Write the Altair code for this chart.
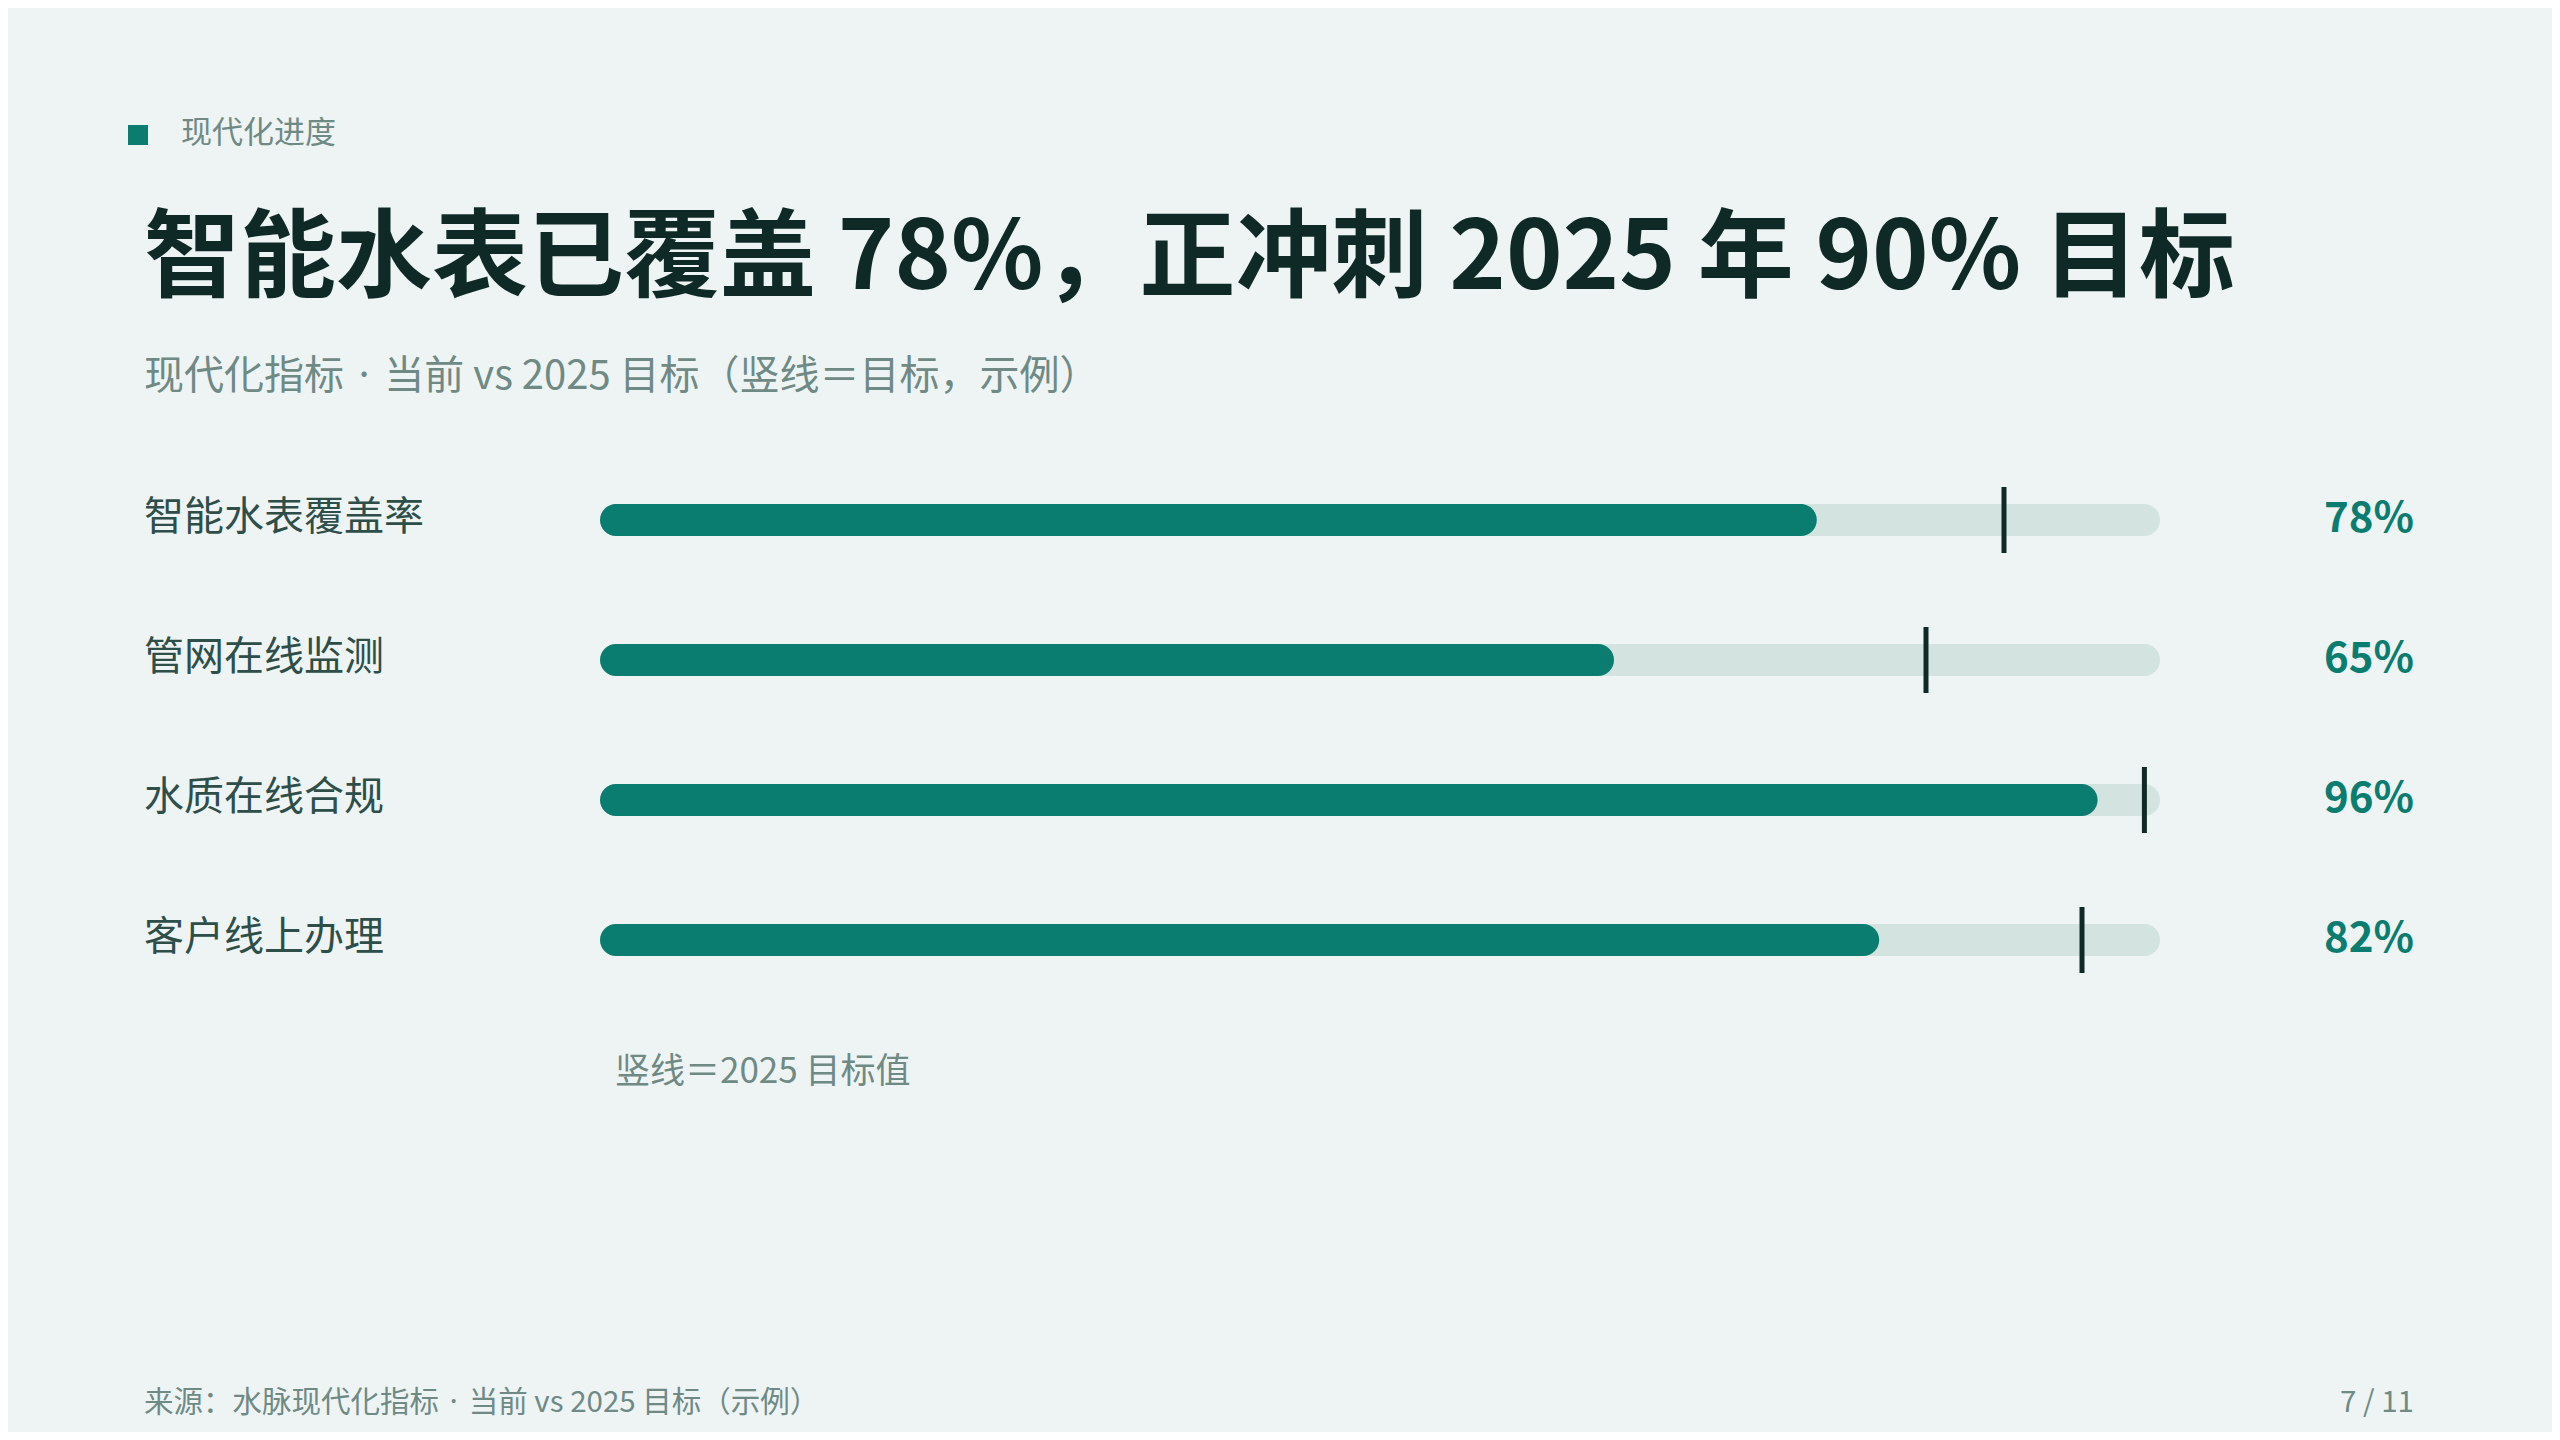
import altair as alt
import pandas as pd

# ---- data ----
categories = ["智能水表覆盖率", "管网在线监测", "水质在线合规", "客户线上办理"]
current = [78, 65, 96, 82]
target = [90, 85, 99, 95]
value_labels = ["78%", "65%", "96%", "82%"]

tag_text = ["现代化进度"]
title_text = ["智能水表已覆盖 78%，正冲刺 2025 年 90% 目标"]
subtitle_text = ["现代化指标 · 当前 vs 2025 目标（竖线＝目标，示例）"]
note_text = ["竖线＝2025 目标值"]
source_prefix = ["来源："]
source_text = ["水脉现代化指标 · 当前 vs 2025 目标（示例）"]
page_text = ["7 / 11"]

FONT = "Noto Sans CJK SC"
FONT_DOT = "Noto Sans CJK JP"
BG = "#EEF4F3"
TEAL = "#0B7D70"
TRACK = "#D3E3DF"
DARK = "#0F2A26"
LABEL = "#2D4E49"
GREY = "#6F8A85"

W, H = 1560, 560
FOOT = 29.5

df = pd.DataFrame({
    "cat": categories,
    "cur": current,
    "tgt": target,
    "lbl": value_labels,
    "zero": [0] * len(categories),
    "full": [100] * len(categories),
})

xscale = alt.Scale(domain=[0, 100], nice=False, zero=True)
yenc = alt.Y("cat:N", sort=categories,
             scale=alt.Scale(paddingInner=0, paddingOuter=0), axis=None)

base = alt.Chart(df)

track = base.mark_bar(size=32, cornerRadius=16, color=TRACK).encode(
    x=alt.X("zero:Q", scale=xscale, axis=None),
    x2="full:Q",
    y=yenc,
)
fill = base.mark_bar(size=32, cornerRadius=16, color=TEAL).encode(
    x=alt.X("zero:Q", scale=xscale, axis=None),
    x2="cur:Q",
    y=yenc,
)
ticks = base.mark_tick(thickness=5, size=66, color=DARK, opacity=1).encode(
    x=alt.X("tgt:Q", scale=xscale, axis=None),
    y=yenc,
)
cat_labels = base.mark_text(align="left", baseline="alphabetic", dy=10,
                            font=FONT, fontSize=40, color=LABEL).encode(
    x=alt.value(-456),
    y=yenc,
    text="cat:N",
)
val_labels = base.mark_text(align="right", baseline="alphabetic", dy=12,
                            font=FONT, fontSize=42, fontWeight="bold", color=TEAL).encode(
    x=alt.value(1814),
    y=yenc,
    text="lbl:N",
)


def txt(values, x, y, size, color, weight="normal", align="left", font=FONT):
    return alt.Chart(pd.DataFrame({"t": values})).mark_text(
        align=align, baseline="alphabetic", font=font, fontSize=size,
        fontWeight=weight, color=color,
    ).encode(x=alt.value(x), y=alt.value(y), text="t:N")


tag_square = alt.Chart(pd.DataFrame({"t": tag_text})).mark_square(
    size=400, color=TEAL, opacity=1
).encode(x=alt.value(-462), y=alt.value(-315))

layers = [
    track, fill, ticks, cat_labels, val_labels,
    tag_square,
    txt(tag_text, -419, -307, 31, GREY),
    txt(title_text, -456, -161, 96, DARK, weight="bold"),
    txt(subtitle_text, -456, -61, 40, GREY, font=FONT_DOT),
    txt(note_text, 15, 633, 35, GREY),
    txt(source_prefix, -456, 962, FOOT, GREY),
    txt(source_text, -456 + 3 * FOOT, 962, FOOT, GREY, font=FONT_DOT),
    txt(page_text, 1814, 962, FOOT, GREY, align="right"),
]

chart = alt.layer(*layers).properties(
    width=W,
    height=H,
    autosize=alt.AutoSizeParams(type="none"),
    padding={"left": 592, "top": 442, "right": 392, "bottom": 422},
    background=BG,
).configure_view(stroke=None)

chart.save("out.html", embed_options={"renderer": "svg", "actions": False})
